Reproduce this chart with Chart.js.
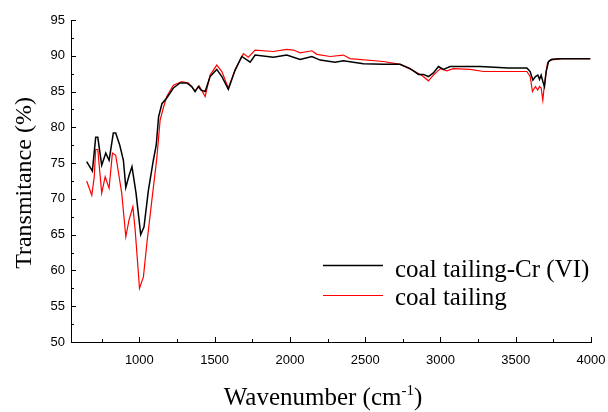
<!DOCTYPE html>
<html><head><meta charset="utf-8">
<script src="https://cdn.jsdelivr.net/npm/chart.js@4/dist/chart.umd.min.js"></script>
<style>html,body{margin:0;padding:0;background:#fff}#wrap{width:608px;height:412px;position:relative}</style>
</head><body><div id="wrap"><canvas id="c" width="608" height="412"></canvas></div>
<script>
// ---- data ----
const seriesLabels = ['coal tailing-Cr (VI)', 'coal tailing'];
const wnCr = [650,688,710,724,750,777,799,827,843,870,894,910,932,951,978,1009,1031,1060,1093,1112,1128,1150,1182,1226,1270,1315,1348,1370,1392,1410,1437,1470,1514,1548,1591,1636,1680,1702,1736,1769,1890,1979,2068,2146,2201,2300,2355,2488,2621,2732,2799,2854,2887,2920,2953,2987,3020,3064,3264,3452,3574,3596,3614,3631,3647,3658,3669,3680,3691,3702,3718,3740,3795,3995];
const tCr  = [75.2,73.9,78.6,78.6,74.7,76.4,75.4,79.2,79.2,77.5,75.4,71.6,73.3,74.5,70.8,65.0,66.1,71.2,75.4,77.5,81.5,83.3,84.1,85.5,86.2,86.2,85.7,85.0,85.7,85.2,85.0,87.1,88.1,87.1,85.3,88.0,89.9,89.6,89.1,90.1,89.8,90.1,89.5,89.9,89.4,89.1,89.3,88.9,88.8,88.8,88.2,87.4,87.4,87.1,87.6,88.5,88.1,88.5,88.5,88.3,88.3,87.8,86.6,87.1,87.3,86.7,87.3,86.4,85.7,87.8,89.2,89.5,89.6,89.6];
const wnCoal = [650,684,700,710,724,750,773,799,821,843,883,910,932,957,972,1001,1027,1050,1083,1116,1138,1159,1182,1226,1282,1326,1370,1397,1437,1470,1514,1548,1591,1636,1691,1724,1769,1890,1979,2023,2068,2146,2179,2267,2355,2399,2621,2732,2821,2880,2920,2953,3000,3043,3086,3197,3286,3574,3596,3611,3631,3646,3658,3669,3680,3689,3698,3711,3729,3807,3995];
const tCoal  = [72.5,70.5,73.0,76.9,76.9,70.8,73.1,71.5,76.4,76.1,70.8,64.7,67.1,68.9,65.7,57.5,59.1,63.8,69.8,75.7,81.0,82.7,84.3,85.9,86.4,86.2,85.1,85.8,84.3,87.3,88.7,87.8,85.5,88.0,90.3,89.8,90.8,90.6,90.9,90.8,90.4,90.7,90.2,89.9,90.1,89.6,89.2,88.8,87.9,87.2,86.5,87.3,88.2,87.9,88.2,88.1,87.8,87.8,87.1,85.0,85.7,85.2,85.7,85.5,83.8,85.7,87.1,89.0,89.4,89.6,89.6];
const xTickValues = [750,1000,1250,1500,1750,2000,2250,2500,2750,3000,3250,3500,3750,4000];
const yTickValues = [50,52.5,55,57.5,60,62.5,65,67.5,70,72.5,75,77.5,80,82.5,85,87.5,90,92.5,95];
const xTitle = ['Wavenumber (cm', '-1', ')'];
const yTitle = 'Transmitance (%)';

// ---- chart ----
const pts = (xs, ys) => xs.map((x, i) => ({x: x, y: ys[i]}));
const TICK_FONT = {family: '"Liberation Sans", Arial, sans-serif', size: 13};

const inwardTicks = {
  id: 'inwardTicks',
  afterDraw(chart) {
    const ctx = chart.ctx, ca = chart.chartArea;
    const xs = chart.scales.x, ys = chart.scales.y;
    ctx.save();
    ctx.strokeStyle = '#000'; ctx.lineWidth = 1;
    ctx.beginPath();
    xs.ticks.forEach(t => {
      const p = Math.round(xs.getPixelForValue(t.value)) + 0.5;
      const len = (t.value % 500 === 0) ? 5 : 3;
      ctx.moveTo(p, ca.bottom); ctx.lineTo(p, ca.bottom - len);
    });
    ys.ticks.forEach(t => {
      const p = Math.round(ys.getPixelForValue(t.value)) + 0.5;
      const len = (t.value % 5 === 0) ? 5 : 3;
      ctx.moveTo(ca.left, p); ctx.lineTo(ca.left + len, p);
    });
    ctx.stroke();
    ctx.restore();
  }
};

const titlesAndLegend = {
  id: 'titlesAndLegend',
  afterDraw(chart) {
    const ctx = chart.ctx, ca = chart.chartArea;
    ctx.save();
    ctx.fillStyle = '#000';
    // x title with superscript
    const big = '25px "Liberation Serif", "Times New Roman", serif';
    const small = '15px "Liberation Serif", "Times New Roman", serif';
    ctx.font = big; const w1 = ctx.measureText(xTitle[0]).width; const w3 = ctx.measureText(xTitle[2]).width;
    ctx.font = small; const w2 = ctx.measureText(xTitle[1]).width;
    const total = w1 + w2 + w3;
    let x0 = 323 - total / 2;
    const base = 405;
    ctx.textBaseline = 'alphabetic'; ctx.textAlign = 'left';
    ctx.font = big; ctx.fillText(xTitle[0], x0, base);
    ctx.font = small; ctx.fillText(xTitle[1], x0 + w1, base - 10);
    ctx.font = big; ctx.fillText(xTitle[2], x0 + w1 + w2, base);
    // y title
    ctx.save();
    ctx.translate(25, 183);
    ctx.rotate(-Math.PI / 2);
    ctx.font = '24px "Liberation Serif", "Times New Roman", serif';
    ctx.textAlign = 'center'; ctx.textBaseline = 'middle';
    ctx.fillText(yTitle, 0, 0);
    ctx.restore();
    // legend
    const ds = chart.data.datasets;
    const rows = [265, 295], bases = [277, 305];
    ctx.font = big; ctx.textAlign = 'left'; ctx.textBaseline = 'alphabetic';
    ds.forEach((d, i) => {
      ctx.strokeStyle = d.borderColor; ctx.lineWidth = d.borderWidth;
      ctx.beginPath(); ctx.moveTo(323, rows[i] + 0.5); ctx.lineTo(383, rows[i] + 0.5); ctx.stroke();
      ctx.fillStyle = '#000';
      ctx.fillText(d.label, 395, bases[i]);
    });
    ctx.restore();
  }
};

new Chart(document.getElementById('c'), {
  type: 'line',
  data: {
    datasets: [
      {label: seriesLabels[0], data: pts(wnCr, tCr), borderColor: '#000000', borderWidth: 1.5, pointRadius: 0, tension: 0, fill: false},
      {label: seriesLabels[1], data: pts(wnCoal, tCoal), borderColor: '#ff0000', borderWidth: 1.2, pointRadius: 0, tension: 0, fill: false}
    ]
  },
  options: {
    responsive: false, animation: false, devicePixelRatio: 1,
    layout: {padding: {top: 20, right: 17, left: 0, bottom: 0}},
    plugins: {legend: {display: false}, tooltip: {enabled: false}},
    scales: {
      x: {
        type: 'linear', min: 546, max: 4000,
        afterBuildTicks: s => { s.ticks = xTickValues.map(v => ({value: v})); },
        afterFit: s => { s.height = 70; s.paddingLeft = 0; s.paddingRight = 0; },
        ticks: {font: TICK_FONT, color: '#000', padding: 11, autoSkip: false, maxRotation: 0,
                callback: v => (v % 500 === 0 ? String(v) : '')},
        grid: {display: true, drawOnChartArea: false, drawTicks: false},
        border: {display: true, color: '#000', width: 1}
      },
      y: {
        type: 'linear', min: 50, max: 95,
        afterBuildTicks: s => { s.ticks = yTickValues.map(v => ({value: v})); },
        afterFit: s => { s.width = 71; s.paddingTop = 0; s.paddingBottom = 0; },
        ticks: {font: TICK_FONT, color: '#000', padding: 6, autoSkip: false,
                callback: v => (v % 5 === 0 ? String(v) : '')},
        grid: {display: true, drawOnChartArea: false, drawTicks: false},
        border: {display: true, color: '#000', width: 1}
      }
    }
  },
  plugins: [inwardTicks, titlesAndLegend]
});
</script>
</body></html>
